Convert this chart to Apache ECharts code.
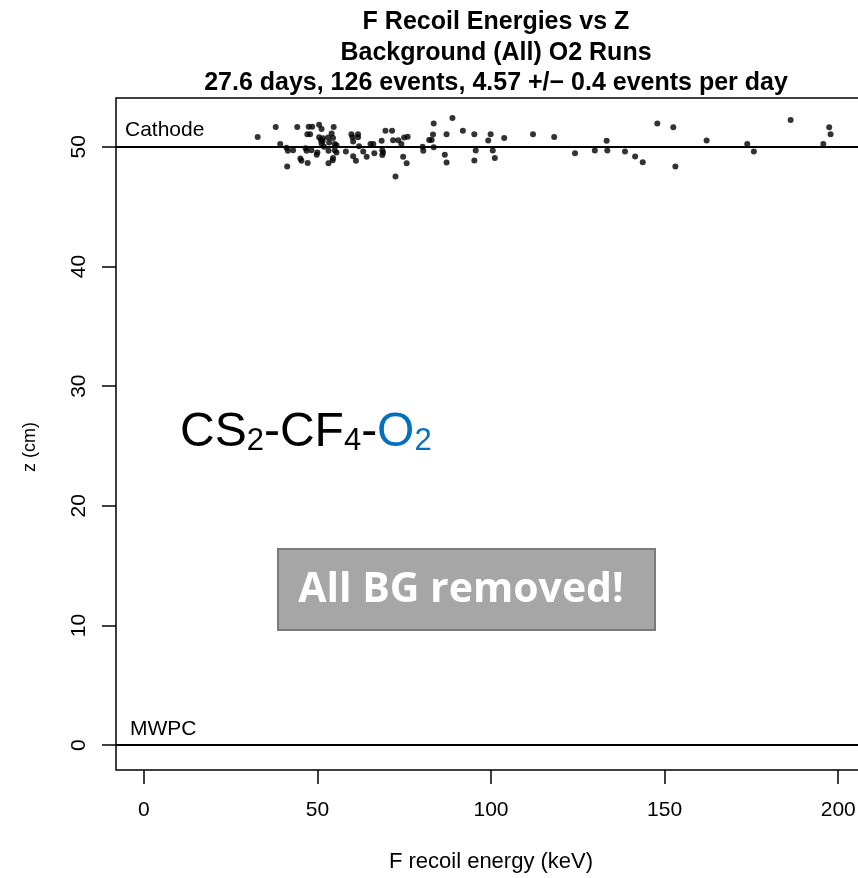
<!DOCTYPE html>
<html>
<head>
<meta charset="utf-8">
<script src="https://cdn.jsdelivr.net/npm/echarts@6/dist/echarts.min.js"></script>
<style>
  html, body { margin: 0; padding: 0; background: #ffffff; overflow: hidden; width: 858px; height: 878px; }
  /* the plot box runs a little past the right edge of the page */
  #chart { width: 880px; height: 878px; }
</style>
</head>
<body>
<div id="chart"></div>
<script>
// Recoil energy (keV) and z position (cm) of each background event
var energy = [32.8,38.0,39.3,41.1,41.5,41.3,43.0,44.2,45.1,45.4,
  46.6,46.9,47.2,47.5,48.5,47.1,47.9,48.3,50.5,51.2,
  50.5,51.0,51.2,50.0,49.8,51.6,51.5,51.9,53.1,53.4,
  54.1,54.5,54.7,55.0,55.5,53.2,55.0,55.5,54.5,54.4,
  53.2,58.2,59.8,60.1,61.7,61.7,60.3,62.0,60.3,61.1,
  63.2,64.2,65.3,66.1,66.4,68.5,68.7,68.9,68.7,69.6,
  71.5,71.8,73.3,74.2,74.7,75.0,76.0,75.7,72.5,80.3,
  80.5,82.2,82.9,83.5,83.3,83.5,86.7,87.2,87.2,88.9,
  91.9,95.2,95.6,95.2,99.2,99.9,100.5,101.1,103.8,112.1,
  118.2,124.2,129.9,133.3,133.5,138.6,141.5,143.7,147.9,152.5,
  153.1,162.1,173.8,175.7,186.3,197.4,197.8,195.7];
var zpos = [50.82,51.65,50.23,49.92,49.67,48.36,49.71,51.65,49.02,48.83,
  49.89,49.67,48.64,51.67,51.67,51.06,51.06,49.71,51.84,51.48,
  50.79,50.56,50.28,49.52,49.33,50.71,50.46,50.00,50.78,50.36,
  51.11,50.73,51.65,50.23,50.14,49.67,49.72,49.52,49.06,48.87,
  48.62,49.61,51.06,50.79,51.06,50.81,50.44,50.04,49.21,48.83,
  49.61,49.17,50.23,50.23,49.46,50.50,49.72,49.52,49.31,51.34,
  51.34,50.54,50.54,50.23,49.17,50.78,50.85,48.62,47.52,50.00,
  49.67,50.56,50.56,51.94,51.04,49.96,49.33,48.69,51.06,52.40,
  51.34,51.06,49.69,48.86,50.53,51.06,49.69,49.06,50.73,51.06,
  50.83,49.47,49.69,50.50,49.69,49.61,49.19,48.72,51.94,51.64,
  48.36,50.53,50.23,49.61,52.25,51.64,51.06,50.23];

// Tick values
var xTicks = [0, 50, 100, 150, 200];
var yTicks = [0, 10, 20, 30, 40, 50];

// Detector planes: cathode at 50 cm, MWPC at 0 cm
var planeNames = ['Cathode', 'MWPC'];
var planeZ = [50, 0];

var titleLines = [
  'F Recoil Energies vs Z',
  'Background (All) O2 Runs',
  '27.6 days, 126 events, 4.57 +/\u2212 0.4 events per day'
];

var points = energy.map(function (e, i) { return [e, zpos[i]]; });

var FONT = '"Liberation Sans", Arial, sans-serif';

var chart = echarts.init(document.getElementById('chart'));
chart.setOption({
  animation: false,
  backgroundColor: '#ffffff',
  title: {
    text: titleLines.join('\n'),
    left: 491,
    textAlign: 'center',
    top: 2,
    textStyle: { fontFamily: FONT, fontWeight: 'bold', fontSize: 25, lineHeight: 30.5, color: '#000' }
  },
  grid: {
    left: 116, top: 98, width: 750, height: 673,
    show: true, borderColor: '#000', borderWidth: 1.5, backgroundColor: 'transparent'
  },
  xAxis: {
    type: 'value', min: -8, max: 208,
    name: 'F recoil energy (keV)', nameLocation: 'middle', nameGap: 81,
    nameTextStyle: { fontFamily: FONT, fontSize: 22, color: '#000' },
    axisLine: { show: false, onZero: false },
    axisTick: { show: true, inside: false, length: 14, lineStyle: { color: '#000', width: 1.5 }, customValues: xTicks },
    axisLabel: { fontFamily: FONT, fontSize: 21, color: '#000', margin: 30, customValues: xTicks },
    splitLine: { show: false }
  },
  yAxis: {
    type: 'value', min: -2.08, max: 54.08,
    axisLine: { show: false, onZero: false },
    axisTick: { show: true, inside: false, length: 14, lineStyle: { color: '#000', width: 1.5 }, customValues: yTicks },
    axisLabel: { fontFamily: FONT, fontSize: 21, color: '#000', margin: 26, rotate: 90, customValues: yTicks },
    splitLine: { show: false }
  },
  series: [{
    type: 'scatter',
    data: points,
    symbol: 'circle',
    symbolSize: 6,
    itemStyle: { color: '#000' },
    markLine: {
      silent: true,
      symbol: ['none', 'none'],
      lineStyle: { color: '#000', width: 2, type: 'solid' },
      label: { show: false },
      data: planeZ.map(function (z) { return { yAxis: z }; })
    }
  }],
  graphic: [
    {
      type: 'text', x: 30, y: 447, rotation: Math.PI / 2,
      style: { text: 'z (cm)', font: '18px ' + FONT, fill: '#000', align: 'center', verticalAlign: 'middle' }
    },
    {
      type: 'text', left: 125, top: 120,
      style: { text: planeNames[0], font: '21px ' + FONT, fill: '#000' }
    },
    {
      type: 'text', left: 130, top: 719,
      style: { text: planeNames[1], font: '21px ' + FONT, fill: '#000' }
    },
    {
      type: 'text', left: 180, top: 409,
      style: {
        text: '{n|CS}{s|2}{n|-CF}{s|4}{n|-}{b|O}{bs|2}',
        rich: {
          n: { fontFamily: FONT, fontSize: 48, fill: '#000', lineHeight: 48, verticalAlign: 'bottom' },
          s: { fontFamily: FONT, fontSize: 31, fill: '#000', lineHeight: 12, verticalAlign: 'bottom' },
          b: { fontFamily: FONT, fontSize: 48, fill: '#0070c0', lineHeight: 48, verticalAlign: 'bottom' },
          bs: { fontFamily: FONT, fontSize: 31, fill: '#0070c0', lineHeight: 12, verticalAlign: 'bottom' }
        }
      }
    },
    {
      type: 'rect',
      shape: { x: 278, y: 549, width: 377, height: 81 },
      style: { fill: '#a6a6a6', stroke: '#7b7b7b', lineWidth: 2 }
    },
    {
      type: 'text', x: 461, y: 590,
      style: {
        text: 'All BG removed!', fill: '#ffffff',
        font: 'bold 41px "Open Sans", Lato, sans-serif',
        align: 'center', verticalAlign: 'middle'
      }
    }
  ]
});
</script>
</body>
</html>
